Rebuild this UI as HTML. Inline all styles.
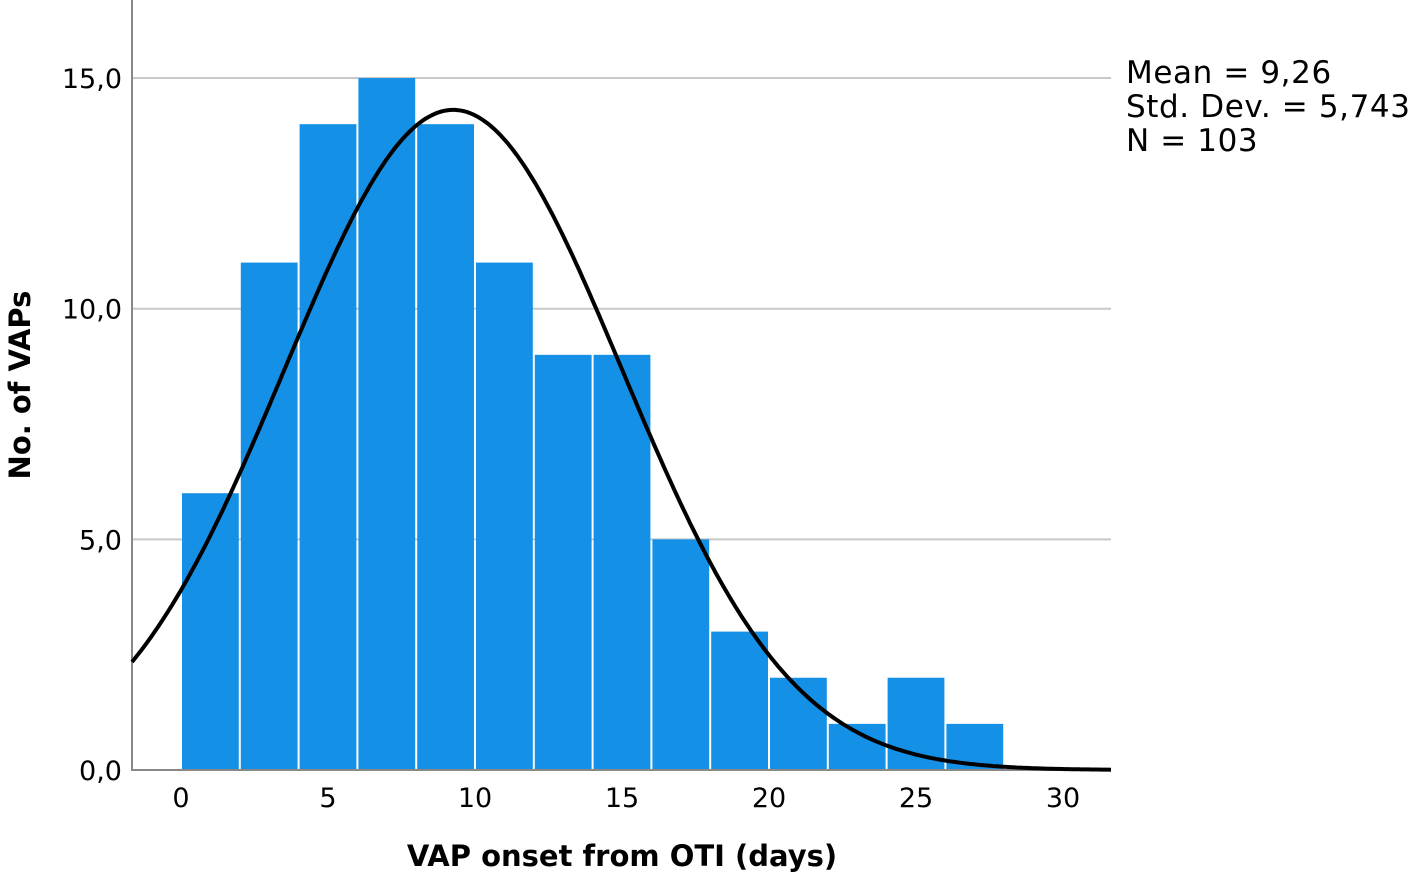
<!DOCTYPE html>
<html><head><meta charset="utf-8"><style>
body{margin:0;background:#fff;}
svg text{font-family:"DejaVu Sans","Liberation Sans",sans-serif;}
</style></head><body>
<svg id="chart" width="1416" height="878" xmlns="http://www.w3.org/2000/svg">
<g id="grid"></g><g id="bars"></g><g id="axes"></g><g id="labels"></g>
<path id="curve" fill="none" stroke="#000" stroke-width="4"/>
<text x="1126" y="83" font-size="31" letter-spacing="0.6">Mean = 9,26</text>
<text x="1126" y="117" font-size="31" letter-spacing="0.6">Std. Dev. = 5,743</text>
<text x="1126" y="151" font-size="31" letter-spacing="0.6">N = 103</text>
<text x="622" y="866" font-size="29" font-weight="bold" text-anchor="middle">VAP onset from OTI (days)</text>
<text transform="translate(30,385) rotate(-90)" font-size="29" font-weight="bold" text-anchor="middle">No. of VAPs</text>
</svg>
<script>
const binStarts=[0,2,4,6,8,10,12,14,16,18,20,22,24,26];
const counts=[6,11,14,15,14,11,9,9,5,3,2,1,2,1];
const binWidth=2;
const mean=9.26, sd=5.743, n=103;
const xTicks=[0,5,10,15,20,25,30];
const yTicks=[0,5,10,15];
const yTickLabels=["0,0","5,0","10,0","15,0"];
const NS="http://www.w3.org/2000/svg";
const X=v=>181+v*29.4, Y=v=>770-v*46.13;
const L=132,R=1111;
function mk(t,a,p){const e=document.createElementNS(NS,t);for(const k in a)e.setAttribute(k,a[k]);document.getElementById(p).appendChild(e);return e;}
yTicks.forEach((t,i)=>{
 if(t>0){const g=mk('line',{x1:L,x2:R,y1:Y(t),y2:Y(t),stroke:'#c8c8c8','stroke-width':2},'grid');
 
 }
 const tx=mk('text',{x:122,y:Y(t)+10,'font-size':27,'text-anchor':'end'},'labels');tx.textContent=yTickLabels[i];
 
 
});
xTicks.forEach(t=>{const tx=mk('text',{x:X(t),y:807,'font-size':27,'text-anchor':'middle'},'labels');tx.textContent=t;
 
 });
binStarts.forEach((b,i)=>{const r=mk('rect',{x:X(b)+1,y:Y(counts[i]),width:X(b+binWidth)-X(b)-2,height:Y(0)-Y(counts[i]),fill:'#1490e6'},'bars');
 
 });
const ax=mk('path',{d:`M${L} 0 V770 H${R}`,fill:'none',stroke:'#888','stroke-width':2},'axes');


let d='';const x0=(L-181)/29.4,x1=(R-181)/29.4;
for(let i=0;i<=300;i++){const v=x0+(x1-x0)*i/300;const y=n*binWidth/(sd*Math.sqrt(2*Math.PI))*Math.exp(-0.5*((v-mean)/sd)**2);d+=(i?'L':'M')+X(v).toFixed(1)+' '+Y(y).toFixed(1);}
document.getElementById('curve').setAttribute('d',d);
</script>
</body></html>
